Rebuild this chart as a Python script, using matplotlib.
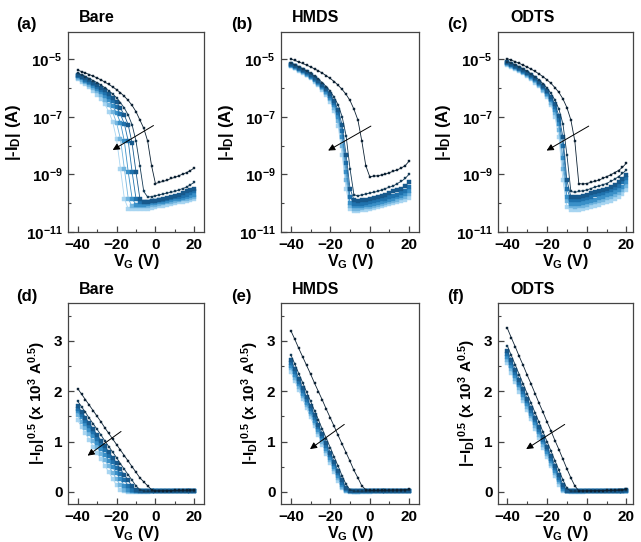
import matplotlib
matplotlib.use("Agg")
import matplotlib.pyplot as plt
import numpy as np
from matplotlib.ticker import FixedLocator, FuncFormatter, NullFormatter

plt.rcParams['font.family'] = ['Liberation Sans', 'DejaVu Sans']
plt.rcParams['mathtext.fontset'] = 'custom'
plt.rcParams['mathtext.rm'] = 'Liberation Sans'
plt.rcParams['mathtext.bf'] = 'Liberation Sans:bold'
plt.rcParams['mathtext.it'] = 'Liberation Sans:italic'

# Gate voltage grid (V)
vg = list(range(-40, 21, 2))

# |I_D|^0.5 in units of 1e-3 A^0.5, one list per sweep (darkest first)
bare_sqrt = [
    [2.05, 1.94, 1.83, 1.72, 1.61, 1.50, 1.39, 1.27, 1.16, 1.05, 0.94, 0.83, 0.72, 0.61, 0.50, 0.39, 0.28, 0.20, 0.12, 0.045, 0.022, 0.023, 0.024, 0.025, 0.027, 0.028, 0.030, 0.032, 0.034, 0.037, 0.041],
    [1.80, 1.69, 1.58, 1.46, 1.35, 1.24, 1.13, 1.01, 0.90, 0.79, 0.68, 0.56, 0.45, 0.34, 0.23, 0.12, 0.045, 0.016, 0.0128, 0.013, 0.0135, 0.014, 0.0145, 0.015, 0.0155, 0.016, 0.017, 0.018, 0.019, 0.021, 0.023],
    [1.70, 1.59, 1.47, 1.36, 1.25, 1.13, 1.02, 0.91, 0.79, 0.68, 0.57, 0.45, 0.34, 0.23, 0.11, 0.035, 0.012, 0.0105, 0.0105, 0.011, 0.011, 0.0115, 0.012, 0.0125, 0.013, 0.0135, 0.014, 0.015, 0.016, 0.017, 0.018],
    [1.65, 1.53, 1.41, 1.30, 1.18, 1.06, 0.94, 0.83, 0.71, 0.59, 0.47, 0.35, 0.24, 0.12, 0.035, 0.012, 0.0105, 0.0105, 0.0105, 0.011, 0.011, 0.0112, 0.0115, 0.012, 0.0123, 0.0127, 0.013, 0.0135, 0.014, 0.015, 0.016],
    [1.60, 1.48, 1.35, 1.23, 1.11, 0.98, 0.86, 0.74, 0.62, 0.49, 0.37, 0.25, 0.12, 0.035, 0.012, 0.0095, 0.0095, 0.0095, 0.0097, 0.010, 0.010, 0.0103, 0.0106, 0.011, 0.0113, 0.0117, 0.012, 0.0125, 0.013, 0.0135, 0.014],
    [1.52, 1.39, 1.27, 1.14, 1.01, 0.89, 0.76, 0.63, 0.51, 0.38, 0.25, 0.13, 0.04, 0.012, 0.0088, 0.0088, 0.0088, 0.009, 0.009, 0.0092, 0.0095, 0.0097, 0.010, 0.0103, 0.0106, 0.011, 0.0113, 0.0117, 0.012, 0.0125, 0.013],
    [1.42, 1.29, 1.16, 1.03, 0.90, 0.77, 0.65, 0.52, 0.39, 0.26, 0.13, 0.04, 0.012, 0.008, 0.0078, 0.0078, 0.0078, 0.008, 0.008, 0.0083, 0.0085, 0.0088, 0.009, 0.0093, 0.0096, 0.010, 0.0103, 0.0107, 0.011, 0.0115, 0.012],
]

hmds_sqrt = [
    [3.20, 3.03, 2.85, 2.68, 2.51, 2.34, 2.16, 1.99, 1.82, 1.64, 1.47, 1.30, 1.12, 0.95, 0.78, 0.61, 0.43, 0.28, 0.12, 0.045, 0.029, 0.0295, 0.030, 0.031, 0.032, 0.034, 0.036, 0.038, 0.041, 0.045, 0.054],
    [2.72, 2.54, 2.35, 2.17, 1.98, 1.80, 1.61, 1.43, 1.24, 1.06, 0.88, 0.69, 0.51, 0.32, 0.15, 0.04, 0.014, 0.0135, 0.014, 0.0145, 0.015, 0.0155, 0.016, 0.017, 0.018, 0.019, 0.020, 0.022, 0.024, 0.027, 0.032],
    [2.62, 2.44, 2.25, 2.07, 1.88, 1.70, 1.52, 1.33, 1.15, 0.97, 0.78, 0.60, 0.41, 0.23, 0.07, 0.018, 0.0115, 0.011, 0.0112, 0.0115, 0.012, 0.0125, 0.013, 0.0135, 0.014, 0.015, 0.016, 0.017, 0.018, 0.020, 0.023],
    [2.56, 2.38, 2.19, 2.01, 1.83, 1.65, 1.46, 1.28, 1.10, 0.91, 0.73, 0.55, 0.37, 0.18, 0.05, 0.013, 0.0098, 0.0097, 0.0098, 0.010, 0.0105, 0.011, 0.0113, 0.0117, 0.012, 0.0127, 0.0133, 0.014, 0.015, 0.0165, 0.019],
    [2.50, 2.32, 2.14, 1.95, 1.77, 1.59, 1.41, 1.23, 1.05, 0.86, 0.68, 0.50, 0.32, 0.14, 0.035, 0.010, 0.0088, 0.0088, 0.009, 0.0092, 0.0095, 0.0098, 0.010, 0.0105, 0.011, 0.0115, 0.012, 0.0127, 0.0135, 0.0145, 0.0163],
    [2.45, 2.27, 2.09, 1.91, 1.72, 1.54, 1.36, 1.18, 1.00, 0.82, 0.64, 0.45, 0.27, 0.10, 0.025, 0.009, 0.008, 0.008, 0.0082, 0.0085, 0.0087, 0.009, 0.0093, 0.0097, 0.010, 0.0105, 0.011, 0.0115, 0.0122, 0.013, 0.0143],
    [2.38, 2.20, 2.02, 1.84, 1.66, 1.48, 1.30, 1.12, 0.94, 0.76, 0.58, 0.40, 0.22, 0.07, 0.018, 0.0078, 0.0073, 0.0073, 0.0075, 0.0077, 0.008, 0.0083, 0.0086, 0.009, 0.0093, 0.0097, 0.010, 0.0105, 0.011, 0.0115, 0.0125],
]

odts_sqrt = [
    [3.25, 3.06, 2.88, 2.69, 2.51, 2.32, 2.14, 1.95, 1.76, 1.58, 1.39, 1.21, 1.02, 0.84, 0.65, 0.46, 0.28, 0.12, 0.022, 0.0215, 0.022, 0.023, 0.024, 0.025, 0.027, 0.029, 0.031, 0.034, 0.037, 0.042, 0.050],
    [2.90, 2.71, 2.52, 2.33, 2.14, 1.95, 1.76, 1.57, 1.38, 1.19, 1.00, 0.81, 0.62, 0.43, 0.24, 0.07, 0.016, 0.0155, 0.016, 0.0165, 0.017, 0.018, 0.019, 0.020, 0.021, 0.022, 0.024, 0.026, 0.029, 0.033, 0.038],
    [2.80, 2.61, 2.42, 2.23, 2.04, 1.85, 1.66, 1.47, 1.28, 1.09, 0.90, 0.71, 0.52, 0.33, 0.14, 0.025, 0.013, 0.0128, 0.013, 0.0135, 0.014, 0.0148, 0.0155, 0.0163, 0.017, 0.018, 0.019, 0.021, 0.023, 0.026, 0.031],
    [2.74, 2.55, 2.36, 2.17, 1.98, 1.80, 1.61, 1.42, 1.23, 1.04, 0.85, 0.66, 0.47, 0.28, 0.10, 0.018, 0.0115, 0.0113, 0.0115, 0.012, 0.0125, 0.013, 0.0137, 0.0143, 0.015, 0.016, 0.017, 0.0185, 0.020, 0.023, 0.027],
    [2.68, 2.49, 2.30, 2.12, 1.93, 1.74, 1.55, 1.36, 1.18, 0.99, 0.80, 0.61, 0.42, 0.24, 0.06, 0.013, 0.0098, 0.0097, 0.0098, 0.010, 0.0105, 0.011, 0.0116, 0.0122, 0.013, 0.0137, 0.0145, 0.0157, 0.017, 0.019, 0.023],
    [2.62, 2.43, 2.25, 2.06, 1.87, 1.68, 1.50, 1.31, 1.12, 0.94, 0.75, 0.56, 0.37, 0.19, 0.04, 0.011, 0.0088, 0.0087, 0.0088, 0.009, 0.0095, 0.010, 0.0105, 0.011, 0.0116, 0.0123, 0.013, 0.014, 0.0152, 0.017, 0.020],
    [2.55, 2.36, 2.18, 1.99, 1.81, 1.62, 1.44, 1.25, 1.07, 0.88, 0.70, 0.51, 0.32, 0.14, 0.025, 0.0085, 0.0075, 0.0075, 0.0077, 0.008, 0.0083, 0.0087, 0.009, 0.0095, 0.010, 0.0105, 0.011, 0.012, 0.013, 0.0145, 0.017],
]

titles = ['Bare', 'HMDS', 'ODTS']
top_tags = ['(a)', '(b)', '(c)']
bot_tags = ['(d)', '(e)', '(f)']
datasets = [bare_sqrt, hmds_sqrt, odts_sqrt]

colors = ['#0c2133', '#143a56', '#17598c', '#1f72ad', '#3a90c8', '#72b5df', '#a8d5f1']
msizes = [2.0, 2.0, 2.2, 2.4, 2.7, 3.0, 3.2]

W, H = 641, 542
fig = plt.figure(figsize=(W / 100, H / 100), dpi=100)

def ax_px(l, r, t, b):
    return fig.add_axes([l / W, (H - b) / H, (r - l) / W, (b - t) / H])

cols = [(68, 204), (281, 419), (498, 633)]
xlims = [(-45, 25), (-45, 25), (-44.7, 23.3)]
arrows_top = [((-1, 10**-7.3), (-22, 10**-8.15)),
              ((0.6, 10**-7.32), (-21.1, 10**-8.17)),
              ((1.0, 10**-7.32), (-20.2, 10**-8.17))]
arrows_bot = [((-17.7, 1.2), (-34.9, 0.72)),
              ((-12.9, 1.34), (-30.3, 0.85)),
              ((-11.1, 1.34), (-30.5, 0.85))]
tag_x = [16, 231, 447]
title_x = [79, 292, 510]

def style(ax):
    for s in ax.spines.values():
        s.set_color('#444444')
        s.set_linewidth(0.9)
    ax.tick_params(which='both', direction='in', top=False, right=False,
                   labelsize=11, color='#444444', pad=4)
    ax.tick_params(which='major', length=4, width=0.9)
    ax.tick_params(which='minor', length=2.5, width=0.8)
    for lab in ax.get_xticklabels() + ax.get_yticklabels():
        lab.set_fontweight('bold')

def logfmt(v, pos):
    e = int(round(np.log10(v)))
    return r'$\mathbf{10^{%d}}$' % e

v = np.array(vg, dtype=float)
for j in range(3):
    l, r = cols[j]
    data = datasets[j]
    # top: log plot
    ax = ax_px(l, r, 32, 232)
    for k in range(len(data) - 1, -1, -1):
        s = np.array(data[k])
        cur = (s * 1e-3) ** 2
        ax.plot(v, cur, '-s', color=colors[k], ms=msizes[k], lw=0.6,
                mec=colors[k], mew=0.3, zorder=10 - k)
    ax.set_yscale('log')
    ax.set_ylim(1e-11, 10**-4.05)
    ax.set_xlim(*xlims[j])
    ax.yaxis.set_major_locator(FixedLocator([1e-11, 1e-9, 1e-7, 1e-5]))
    ax.yaxis.set_minor_locator(FixedLocator([1e-10, 1e-8, 1e-6]))
    ax.yaxis.set_major_formatter(FuncFormatter(logfmt))
    ax.yaxis.set_minor_formatter(NullFormatter())
    ax.xaxis.set_major_locator(FixedLocator([-40, -20, 0, 20]))
    ax.xaxis.set_minor_locator(FixedLocator([-30, -10, 10]))
    style(ax)
    ax.set_ylabel(r'|-I$_\mathbf{D}$| (A)', fontsize=12, fontweight='bold', labelpad=2)
    ax.set_xlabel(r'V$_\mathbf{G}$ (V)', fontsize=11.5, fontweight='bold', labelpad=0)
    (x0, y0), (x1, y1) = arrows_top[j]
    ax.annotate('', xy=(x1, y1), xytext=(x0, y0),
                arrowprops=dict(arrowstyle='-|>', color='black', lw=0.7,
                                mutation_scale=10, shrinkA=0, shrinkB=0), zorder=20)
    fig.text(tag_x[j] / W, 1 - 25 / H, top_tags[j], fontsize=12, fontweight='bold',
             ha='left', va='center')
    fig.text(title_x[j] / W, 1 - 18 / H, titles[j], fontsize=11.5, fontweight='bold',
             ha='left', va='center')

    # bottom: sqrt plot
    ax2 = ax_px(l, r, 303, 504)
    for k in range(len(data) - 1, -1, -1):
        s = np.array(data[k])
        ax2.plot(v, s, '-s', color=colors[k], ms=msizes[k], lw=0.6,
                 mec=colors[k], mew=0.3, zorder=10 - k)
    ax2.set_ylim(-0.24, 3.75)
    ax2.set_xlim(*xlims[j])
    ax2.yaxis.set_major_locator(FixedLocator([0, 1, 2, 3]))
    ax2.yaxis.set_minor_locator(FixedLocator([0.5, 1.5, 2.5, 3.5]))
    ax2.xaxis.set_major_locator(FixedLocator([-40, -20, 0, 20]))
    ax2.xaxis.set_minor_locator(FixedLocator([-30, -10, 10]))
    style(ax2)
    dash = '-' if j < 2 else '\u2212'
    ax2.set_ylabel('|' + dash + r'I$_\mathbf{D}$|$^{\mathbf{0.5}}$ (x 10$^{\mathbf{3}}$ A$^{\mathbf{0.5}}$)',
                   fontsize=11, fontweight='bold', labelpad=4)
    ax2.set_xlabel(r'V$_\mathbf{G}$ (V)', fontsize=11.5, fontweight='bold', labelpad=0)
    (x0, y0), (x1, y1) = arrows_bot[j]
    ax2.annotate('', xy=(x1, y1), xytext=(x0, y0),
                 arrowprops=dict(arrowstyle='-|>', color='black', lw=0.7,
                                 mutation_scale=10, shrinkA=0, shrinkB=0), zorder=20)
    fig.text(tag_x[j] / W, 1 - 297 / H, bot_tags[j], fontsize=12, fontweight='bold',
             ha='left', va='center')
    fig.text(title_x[j] / W, 1 - 290 / H, titles[j], fontsize=11.5, fontweight='bold',
             ha='left', va='center')

fig.savefig('out.png', dpi=100)
